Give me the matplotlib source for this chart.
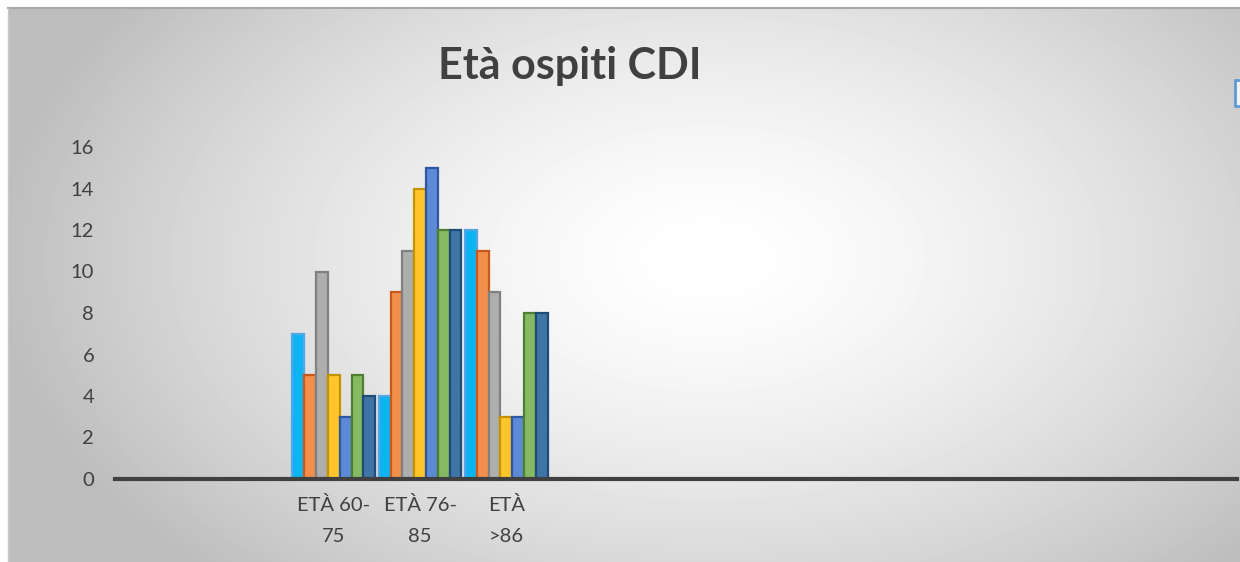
import numpy as np
import matplotlib.pyplot as plt
from matplotlib.patches import Rectangle

# Data
categories = ['', '', 'ETÀ 60-\n75', 'ETÀ 76-\n85', 'ETÀ\n>86',
              '', '', '', '', '', '', '', '']
series_vals = [
    [7, 4, 12],
    [5, 9, 11],
    [10, 11, 9],
    [5, 14, 3],
    [3, 15, 3],
    [5, 12, 8],
    [4, 12, 8],
]
fill_colors = ['#0CB4F2', '#F28F4C', '#AEAEAE', '#FFC52B', '#5D8AD5', '#86BA62', '#3F75A6']
edge_colors = ['#55A6E6', '#C8591A', '#808080', '#C49300', '#2E56A3', '#4F7E30', '#1E4C77']
yticks = [0, 2, 4, 6, 8, 10, 12, 14, 16]

plt.rcParams['font.family'] = ['Lato', 'DejaVu Sans']

W, H = 1240, 562
fig = plt.figure(figsize=(W / 100, H / 100), dpi=100)

# background with radial gradient (chart area starts at 8px from top/left)
bg = fig.add_axes([8 / W, 0, 1 - 8 / W, 1 - 8 / H])
yy, xx = np.mgrid[0:554, 0:1232]
cx, cy = 700, 250
r = np.sqrt(((xx - cx) / 700.0) ** 2 + ((yy - cy) / 430.0) ** 2)
g = np.clip(1.0 - 0.25 * r ** 1.5, 0.74, 1.0)
bg.imshow(g, cmap='gray', vmin=0, vmax=1, aspect='auto', interpolation='bilinear')
bg.set_axis_off()
fig.add_artist(plt.Line2D([8 / W, 1], [1 - 8 / H, 1 - 8 / H], color='#a8a8a8', lw=1.5))
fig.add_artist(plt.Line2D([8 / W, 8 / W], [0, 1 - 8 / H], color='#c8c8c8', lw=1))

# legend fragment at right edge
fig.add_artist(Rectangle((1235 / W, 1 - 106 / H), 10 / W, 26 / H, transform=fig.transFigure,
                         facecolor='#f2f2f2', edgecolor='#5b9bd5', lw=2))

ax = fig.add_axes([115 / W, 83 / H, (1237 - 115) / W, (479 - 147) / H])
ax.patch.set_alpha(0)

n = len(categories)
x = np.arange(n)
bw = 0.137
for i, vals in enumerate(series_vals):
    offs = (i - 3) * bw
    ax.bar(x[2:5] + offs, vals, width=bw, color=fill_colors[i],
           edgecolor=edge_colors[i], linewidth=1.6, zorder=3)

ax.set_xlim(-0.535, n - 0.535)
ax.set_ylim(0, 16)
ax.set_yticks(yticks)
ax.set_xticks(x)
ax.set_xticklabels(categories, fontsize=14.5, color='#404040', linespacing=2.0)
ax.tick_params(axis='both', length=0, colors='#404040', labelsize=14.5)
ax.tick_params(axis='x', pad=12)
ax.tick_params(axis='y', pad=15)
for s in ['top', 'right', 'left']:
    ax.spines[s].set_visible(False)
ax.spines['bottom'].set_color('#404040')
ax.spines['bottom'].set_linewidth(3)
ax.spines['bottom'].set_zorder(4)

fig.text(570 / W, 1 - 66 / H, 'Età ospiti CDI', ha='center', va='center',
         fontsize=31, fontweight='bold', color='#404040')

fig.savefig('out.png', dpi=100)
